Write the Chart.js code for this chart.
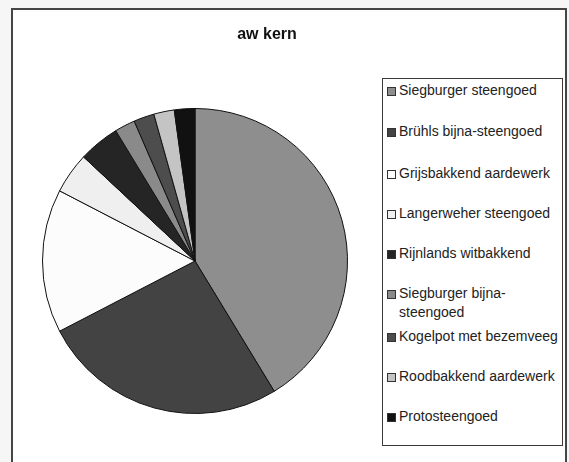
<!DOCTYPE html>
<html>
<head>
<meta charset="utf-8">
<script src="https://cdn.jsdelivr.net/npm/chart.js@4"></script>
<style>
  html, body { margin: 0; padding: 0; background: #f6f6f6; width: 569px; height: 462px; overflow: hidden; }
  #frame { position: absolute; left: 11px; top: 8px; width: 552px; height: 470px;
           background: #fff; border: 2px solid #454545; border-bottom: none; }
  #chart { position: absolute; left: 0; top: 0; }
  #title { position: absolute; left: 167px; width: 200px; top: 25px; text-align: center;
           font: bold 16px "Liberation Sans", Arial, sans-serif; color: #111; }
  #legend { position: absolute; left: 382px; top: 78px; width: 179px; height: 366px;
            border: 1px solid #3a3a3a; background: #fff; }
  .item { position: absolute; left: 0; width: 179px; }
  .sw { position: absolute; left: 4px; width: 7px; height: 7px; border: 1px solid #333; }
  .tx { position: absolute; left: 16px; width: 162px; font: 14px "Liberation Sans", Arial, sans-serif;
        line-height: 19px; color: #222; white-space: normal; }
</style>
</head>
<body>
<div id="frame"></div>
<canvas id="chart" width="569" height="462"></canvas>
<div id="title"></div>
<div id="legend"></div>
<script>
const chartTitle = "aw kern";
const categories = [
  "Siegburger steengoed",
  "Brühls bijna-steengoed",
  "Grijsbakkend aardewerk",
  "Langerweher steengoed",
  "Rijnlands witbakkend",
  "Siegburger bijna-steengoed",
  "Kogelpot met bezemveeg",
  "Roodbakkend aardewerk",
  "Protosteengoed"
];
const counts = [19, 12, 7, 2, 2, 1, 1, 1, 1];
const sliceColors = ["#8e8e8e", "#434343", "#fcfcfc", "#efefef", "#252525", "#8a8a8a", "#4d4d4d", "#c4c4c4", "#111111"];

// legend layout (vertical centre of each entry's first line)
const legendCentres = [90, 131.5, 173, 213, 253, 293, 336, 376, 416];

document.getElementById('title').textContent = chartTitle;

const legend = document.getElementById('legend');
categories.forEach((c, i) => {
  const it = document.createElement('div');
  it.className = 'item';
  it.style.top = (legendCentres[i] - 78 - 1 - 9.5) + 'px';
  const sw = document.createElement('div');
  sw.className = 'sw';
  sw.style.top = '6px';
  sw.style.background = sliceColors[i];
  const tx = document.createElement('div');
  tx.className = 'tx';
  tx.textContent = c;
  if (i === 1) tx.style.whiteSpace = 'nowrap';
  it.appendChild(sw); it.appendChild(tx);
  legend.appendChild(it);
});

new Chart(document.getElementById('chart'), {
  type: 'pie',
  data: {
    labels: categories,
    datasets: [{
      data: counts,
      backgroundColor: sliceColors,
      borderColor: '#111',
      borderWidth: 1
    }]
  },
  options: {
    responsive: false,
    animation: false,
    layout: { padding: { left: 42, right: 221, top: 108, bottom: 48 } },
    plugins: {
      legend: { display: false },
      title: { display: false },
      tooltip: { enabled: false }
    }
  }
});
</script>
</body>
</html>
